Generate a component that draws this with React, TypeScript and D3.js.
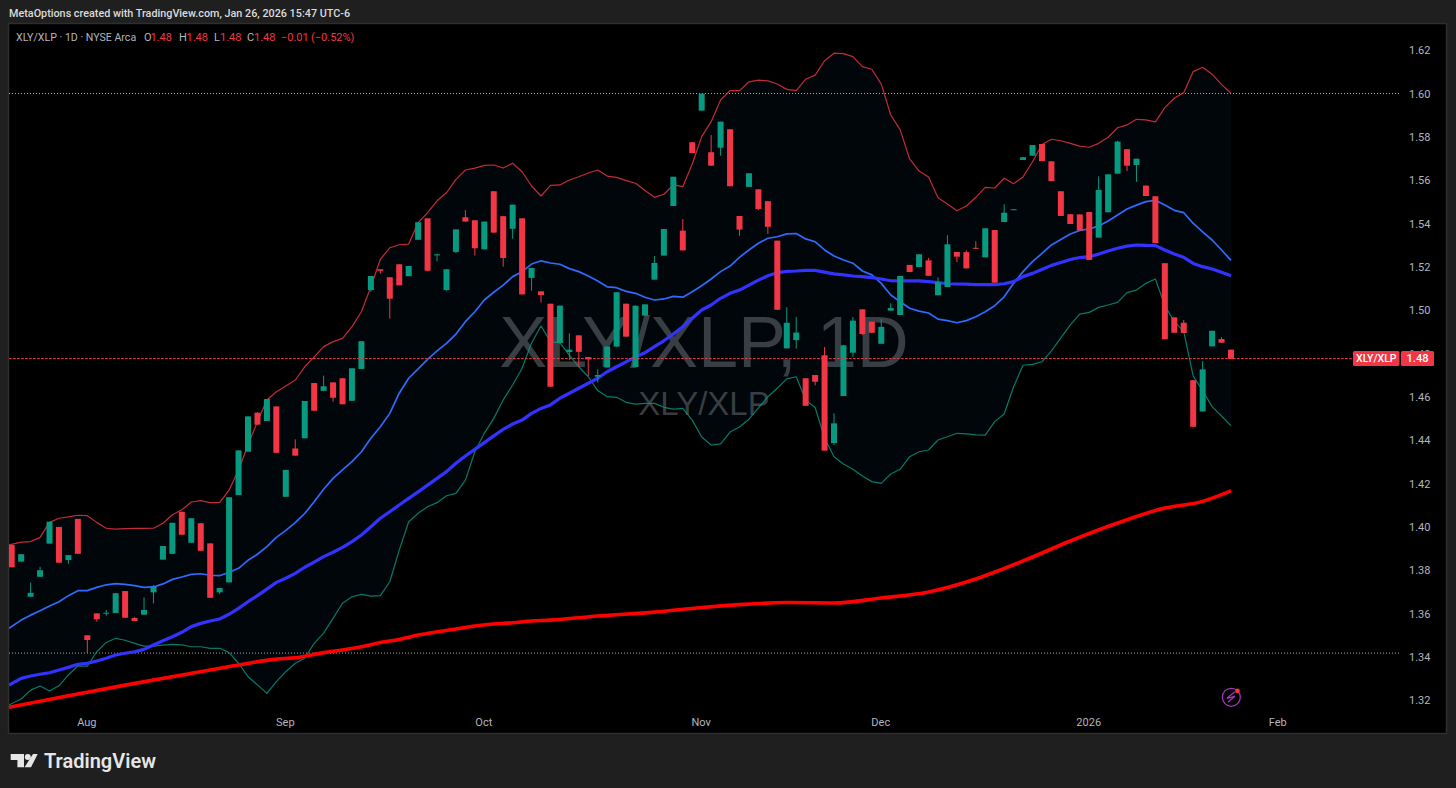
import { useEffect, useRef } from "react";
import * as d3 from "d3";

// daily bars, XLY/XLP
const opens = [
  1.3917, 1.384, 1.3678, 1.377, 1.3923, 1.4, 1.3847, 1.4037, 1.35, 1.3601,
  1.36, 1.3603, 1.3704, 1.358, 1.3595, 1.3698, 1.3849, 1.3876, 1.407, 1.3927,
  1.4017, 1.3924, 1.3698, 1.3744, 1.4147, 1.4347, 1.4527, 1.4489, 1.4556, 1.4139,
  1.4362, 1.4409, 1.4664, 1.4628, 1.4667, 1.4686, 1.4582, 1.4729, 1.5093, 1.5189,
  1.5152, 1.5212, 1.5157, 1.5325, 1.5424, 1.5253, 1.5093, 1.5269, 1.5429, 1.5415,
  1.5281, 1.5549, 1.5434, 1.5376, 1.5424, 1.5149, 1.5087, 1.503, 1.4849, 1.4807,
  1.4884, 1.4784, 1.4693, 1.4736, 1.4832, 1.503, 1.4738, 1.4975, 1.5141, 1.5252,
  1.5481, 1.5367, 1.5775, 1.5921, 1.5729, 1.575, 1.5835, 1.5435, 1.5569, 1.5558,
  1.5503, 1.5321, 1.4824, 1.4862, 1.4686, 1.4701, 1.4792, 1.4387, 1.4604, 1.4804,
  1.5004, 1.4947, 1.4845, 1.4998, 1.4978, 1.5209, 1.5199, 1.523, 1.5069, 1.5107,
  1.5269, 1.5268, 1.5288, 1.5244, 1.537, 1.5407, 1.5462, 1.5693, 1.5713, 1.5767,
  1.5687, 1.5549, 1.5443, 1.5442, 1.5453, 1.5335, 1.5452, 1.563, 1.5743, 1.567,
  1.5575, 1.5526, 1.5217, 1.4967, 1.4942, 1.4677, 1.4533, 1.4833, 1.4867, 1.4818,
];
const highs = [
  1.3917, 1.3874, 1.3743, 1.3816, 1.4024, 1.4, 1.387, 1.4037, 1.35, 1.3601,
  1.3617, 1.3694, 1.3704, 1.3584, 1.3675, 1.3732, 1.3912, 1.4019, 1.407, 1.404,
  1.4017, 1.3924, 1.3718, 1.4137, 1.4353, 1.451, 1.453, 1.459, 1.4556, 1.4263,
  1.4404, 1.4581, 1.4664, 1.4698, 1.4667, 1.4686, 1.4732, 1.4857, 1.5158, 1.5189,
  1.5152, 1.5212, 1.5204, 1.5406, 1.5424, 1.526, 1.5189, 1.5373, 1.5462, 1.5415,
  1.5409, 1.5549, 1.5434, 1.5487, 1.5424, 1.5195, 1.5087, 1.503, 1.5021, 1.4893,
  1.4884, 1.4784, 1.4727, 1.4832, 1.5083, 1.503, 1.5021, 1.5027, 1.525, 1.5375,
  1.5616, 1.5421, 1.5775, 1.5999, 1.5808, 1.587, 1.5835, 1.5435, 1.5632, 1.5558,
  1.5503, 1.5321, 1.5014, 1.4968, 1.4686, 1.4701, 1.483, 1.4524, 1.4838, 1.4969,
  1.5004, 1.4947, 1.4959, 1.5032, 1.5158, 1.5209, 1.5258, 1.5241, 1.5152, 1.5346,
  1.5269, 1.5276, 1.5318, 1.5378, 1.537, 1.5489, 1.5466, 1.5706, 1.5762, 1.5767,
  1.5687, 1.5549, 1.5443, 1.5442, 1.5453, 1.5618, 1.5627, 1.5782, 1.5743, 1.5699,
  1.5575, 1.5526, 1.5217, 1.4967, 1.4955, 1.4677, 1.4766, 1.4905, 1.4876, 1.4818,
];
const lows = [
  1.3814, 1.384, 1.3678, 1.377, 1.3923, 1.3835, 1.383, 1.3876, 1.3418, 1.3563,
  1.359, 1.3603, 1.3581, 1.3566, 1.3595, 1.3647, 1.3849, 1.3876, 1.3964, 1.3927,
  1.389, 1.3673, 1.369, 1.3744, 1.4147, 1.4347, 1.4472, 1.4489, 1.4342, 1.4139,
  1.4329, 1.4409, 1.4536, 1.4628, 1.4578, 1.4566, 1.4582, 1.4729, 1.5085, 1.5168,
  1.4961, 1.5115, 1.5157, 1.5325, 1.5182, 1.5226, 1.509, 1.5264, 1.5409, 1.5252,
  1.5281, 1.5358, 1.5201, 1.533, 1.5073, 1.509, 1.5035, 1.4647, 1.4849, 1.477,
  1.4739, 1.4696, 1.4667, 1.4736, 1.4832, 1.4878, 1.4738, 1.4975, 1.5141, 1.5252,
  1.5481, 1.5276, 1.5725, 1.5921, 1.5667, 1.5713, 1.5572, 1.5344, 1.5569, 1.5462,
  1.5352, 1.5002, 1.4824, 1.4823, 1.4559, 1.4653, 1.4352, 1.4378, 1.4604, 1.4783,
  1.4886, 1.4896, 1.4845, 1.4998, 1.4978, 1.5176, 1.5199, 1.5159, 1.5069, 1.5107,
  1.5222, 1.5193, 1.5284, 1.5244, 1.5127, 1.5407, 1.5462, 1.5693, 1.5713, 1.5688,
  1.5596, 1.5435, 1.5398, 1.5368, 1.5232, 1.5335, 1.5452, 1.563, 1.5642, 1.5592,
  1.5527, 1.531, 1.4866, 1.4896, 1.4895, 1.4462, 1.4533, 1.4833, 1.485, 1.4775,
];
const closes = [
  1.3814, 1.3874, 1.3696, 1.38, 1.4024, 1.3835, 1.387, 1.3876, 1.3478, 1.3574,
  1.3604, 1.3694, 1.3581, 1.3566, 1.3617, 1.3723, 1.3912, 1.4019, 1.3964, 1.404,
  1.389, 1.3673, 1.3718, 1.4137, 1.4353, 1.451, 1.4472, 1.459, 1.4342, 1.4263,
  1.4329, 1.4581, 1.4536, 1.4649, 1.4596, 1.4566, 1.4732, 1.4857, 1.5158, 1.5182,
  1.5053, 1.5115, 1.5204, 1.5406, 1.5182, 1.5258, 1.5189, 1.5373, 1.5409, 1.5286,
  1.5409, 1.5358, 1.5241, 1.5487, 1.5073, 1.5195, 1.507, 1.4647, 1.5021, 1.4818,
  1.4808, 1.4773, 1.4701, 1.4832, 1.5083, 1.4878, 1.5021, 1.5027, 1.5218, 1.5375,
  1.5616, 1.5276, 1.5725, 1.5999, 1.5667, 1.587, 1.5572, 1.5372, 1.5632, 1.5467,
  1.5385, 1.5002, 1.4942, 1.4897, 1.4559, 1.467, 1.4352, 1.4478, 1.4838, 1.4952,
  1.489, 1.4896, 1.4923, 1.501, 1.5158, 1.5176, 1.5258, 1.5159, 1.5129, 1.5304,
  1.5247, 1.5193, 1.5284, 1.5378, 1.5127, 1.545, 1.5466, 1.5706, 1.5762, 1.5688,
  1.5596, 1.5435, 1.5398, 1.5368, 1.5232, 1.5555, 1.5627, 1.5778, 1.5667, 1.5699,
  1.5527, 1.531, 1.4866, 1.4896, 1.4895, 1.4462, 1.4727, 1.4905, 1.485, 1.4775,
];

// bollinger bands
const bbUpper = [
  1.3917, 1.393, 1.3932, 1.3952, 1.4021, 1.404, 1.4046, 1.4054, 1.4052, 1.4021,
  1.3994, 1.399, 1.3992, 1.3994, 1.3993, 1.3994, 1.4017, 1.4056, 1.4079, 1.4115,
  1.4121, 1.4112, 1.4112, 1.417, 1.4263, 1.4378, 1.4486, 1.4586, 1.4624, 1.465,
  1.4678, 1.4739, 1.4785, 1.4832, 1.4855, 1.487, 1.4924, 1.4993, 1.5108, 1.5235,
  1.5288, 1.5302, 1.5305, 1.5404, 1.545, 1.5505, 1.5542, 1.5604, 1.5647, 1.5656,
  1.5668, 1.567, 1.5656, 1.5678, 1.5639, 1.5573, 1.5527, 1.5576, 1.5578, 1.5601,
  1.5616, 1.5633, 1.5647, 1.5619, 1.5613, 1.5598, 1.5586, 1.5552, 1.5521, 1.5535,
  1.5578, 1.557, 1.5675, 1.5801, 1.587, 1.597, 1.6013, 1.6013, 1.6054, 1.6062,
  1.6058, 1.6044, 1.6019, 1.6013, 1.6066, 1.6085, 1.6151, 1.6186, 1.6184, 1.617,
  1.6124, 1.6112, 1.6043, 1.5901, 1.5832, 1.5698, 1.5642, 1.5615, 1.5519, 1.549,
  1.5459, 1.5481, 1.5521, 1.5567, 1.5564, 1.5609, 1.5584, 1.5615, 1.5685, 1.5765,
  1.5789, 1.5782, 1.577, 1.5757, 1.5752, 1.577, 1.5798, 1.5842, 1.5855, 1.5881,
  1.5878, 1.5869, 1.5935, 1.5978, 1.6004, 1.6101, 1.6121, 1.6089, 1.6041, 1.6001,
];
const bbLower = [
  1.3178, 1.3206, 1.3247, 1.3266, 1.3243, 1.3267, 1.3317, 1.3358, 1.3358, 1.3424,
  1.3467, 1.3486, 1.3477, 1.3463, 1.345, 1.345, 1.3455, 1.3458, 1.3456, 1.3447,
  1.3447, 1.344, 1.344, 1.342, 1.3371, 1.3309, 1.3271, 1.3232, 1.3286, 1.3332,
  1.3371, 1.3394, 1.3463, 1.351, 1.3578, 1.3648, 1.3678, 1.3689, 1.3681, 1.3683,
  1.3747, 1.3893, 1.4024, 1.4063, 1.4093, 1.4112, 1.4144, 1.4155, 1.4216, 1.4347,
  1.4432, 1.4501, 1.4586, 1.4655, 1.4732, 1.4849, 1.4927, 1.4855, 1.4849, 1.4793,
  1.4739, 1.4693, 1.4629, 1.4601, 1.4598, 1.4575, 1.4567, 1.457, 1.457, 1.4552,
  1.4544, 1.4547, 1.4493, 1.4415, 1.4378, 1.4383, 1.4438, 1.4461, 1.4497, 1.4549,
  1.4601, 1.464, 1.4683, 1.4693, 1.4586, 1.4551, 1.441, 1.4324, 1.429, 1.4266,
  1.4235, 1.4209, 1.4201, 1.4244, 1.4266, 1.4324, 1.4347, 1.4355, 1.4401, 1.4416,
  1.4432, 1.4429, 1.4425, 1.4424, 1.4486, 1.4521, 1.4647, 1.4746, 1.475, 1.4762,
  1.4812, 1.4872, 1.4932, 1.4982, 1.499, 1.5013, 1.5024, 1.5036, 1.5081, 1.5093,
  1.5124, 1.5144, 1.5021, 1.4947, 1.4901, 1.4696, 1.4629, 1.4555, 1.4512, 1.4466,
];
const bbBasis = [
  1.3532, 1.357, 1.3593, 1.3613, 1.3635, 1.3655, 1.3683, 1.3706, 1.3706, 1.3721,
  1.3733, 1.3738, 1.3735, 1.3729, 1.3721, 1.3723, 1.3737, 1.3758, 1.3769, 1.3781,
  1.3784, 1.3777, 1.3775, 1.3791, 1.3809, 1.3846, 1.3874, 1.3909, 1.3952, 1.3984,
  1.402, 1.4062, 1.4116, 1.4174, 1.4224, 1.4263, 1.4301, 1.4347, 1.4409, 1.4462,
  1.4524, 1.4617, 1.4686, 1.4729, 1.4773, 1.4812, 1.4847, 1.489, 1.4947, 1.4993,
  1.5047, 1.5083, 1.5116, 1.5155, 1.5178, 1.5213, 1.5228, 1.5218, 1.5212, 1.5192,
  1.5178, 1.5158, 1.5135, 1.5108, 1.5104, 1.5087, 1.5078, 1.506, 1.5047, 1.5052,
  1.5064, 1.506, 1.5085, 1.5113, 1.5144, 1.5178, 1.5204, 1.5244, 1.5278, 1.5309,
  1.5332, 1.5339, 1.5352, 1.5354, 1.5329, 1.5316, 1.5278, 1.525, 1.5232, 1.5217,
  1.5181, 1.5163, 1.5124, 1.507, 1.5039, 1.5009, 1.4996, 1.4987, 1.4959, 1.4952,
  1.4942, 1.4952, 1.497, 1.4993, 1.5021, 1.5062, 1.5124, 1.5178, 1.5224, 1.5262,
  1.5301, 1.5326, 1.5352, 1.5368, 1.5375, 1.5389, 1.5412, 1.5439, 1.5467, 1.5485,
  1.5501, 1.5507, 1.5485, 1.5461, 1.545, 1.5401, 1.5362, 1.5324, 1.5278, 1.523,
];

const ma50 = [
  1.327, 1.3301, 1.3312, 1.332, 1.3327, 1.334, 1.3352, 1.3366, 1.3371, 1.3381,
  1.3394, 1.3409, 1.3417, 1.3424, 1.3435, 1.3455, 1.3475, 1.3493, 1.3514, 1.354,
  1.3555, 1.3566, 1.3575, 1.3597, 1.3624, 1.3655, 1.3683, 1.3713, 1.3744, 1.3763,
  1.3786, 1.3814, 1.3838, 1.3863, 1.3883, 1.3906, 1.3932, 1.3963, 1.4001, 1.404,
  1.407, 1.4101, 1.4132, 1.4162, 1.4193, 1.4224, 1.4255, 1.4294, 1.4327, 1.4358,
  1.4389, 1.442, 1.445, 1.4475, 1.4493, 1.4524, 1.4547, 1.4563, 1.4594, 1.4617,
  1.464, 1.4663, 1.4686, 1.4716, 1.4739, 1.4762, 1.4785, 1.4804, 1.4832, 1.4859,
  1.489, 1.4924, 1.4963, 1.5001, 1.5024, 1.5055, 1.5078, 1.5093, 1.5116, 1.5139,
  1.5159, 1.5173, 1.5179, 1.5181, 1.5184, 1.5184, 1.5176, 1.5168, 1.5163, 1.5158,
  1.5155, 1.515, 1.5144, 1.5136, 1.5135, 1.5135, 1.5135, 1.5132, 1.5127, 1.5122,
  1.5121, 1.512, 1.5118, 1.5118, 1.5118, 1.5122, 1.5132, 1.5155, 1.517, 1.5188,
  1.5207, 1.522, 1.5234, 1.5243, 1.5247, 1.5259, 1.5273, 1.5286, 1.5296, 1.5301,
  1.5299, 1.5298, 1.5278, 1.5259, 1.5244, 1.5216, 1.5201, 1.519, 1.5175, 1.5159,
];

// 200 day average is smooth, a reading every few bars is enough
const ma200Bars = [0, 6, 12, 18, 24, 28, 30, 33, 35, 37, 39, 41, 43, 45, 47, 49, 51, 53, 55, 57, 62, 68, 73, 78, 82, 87, 92, 97, 102, 107, 112, 117, 122, 126, 129];
const ma200Values = [
  1.3168, 1.3221, 1.327, 1.3317, 1.3363, 1.339, 1.3396, 1.342, 1.3432, 1.3447,
  1.3467, 1.3481, 1.3501, 1.3516, 1.3529, 1.3543, 1.3552, 1.3558, 1.3566, 1.357,
  1.3589, 1.3607, 1.3628, 1.3644, 1.3651, 1.3649, 1.3672, 1.37, 1.376, 1.3843,
  1.3935, 1.4018, 1.4087, 1.4118, 1.4166,
];

const priceTicks = [1.32, 1.34, 1.36, 1.38, 1.4, 1.42, 1.44, 1.46, 1.48, 1.5, 1.52, 1.54, 1.56, 1.58, 1.6, 1.62];
const monthBars = [8, 29, 50, 73, 92, 114, 134];
const monthLabels = ["Aug", "Sep", "Oct", "Nov", "Dec", "2026", "Feb"];
const levelLines = [1.6, 1.3418];
const lastPrice = 1.4777;

const uiFont = "Roboto, 'Liberation Sans', sans-serif";
const upColor = "#089981";
const downColor = "#f23645";

export default function App() {
  const svgRef = useRef<SVGSVGElement>(null);

  useEffect(() => {
    if (!svgRef.current) return;
    const svg = d3.select(svgRef.current);
    svg.selectAll("*").remove();

    const W = 1456;
    const H = 788;
    const pane = { left: 9, right: 1400, top: 24, bottom: 733 };

    const x = d3.scaleLinear().domain([0, 129]).range([11.7, 1231]);
    const y = d3.scaleLinear().domain([1.6, 1.32]).range([93.5, 700.3]);
    // the first bar is cut by the pane edge, its lines start right on that edge
    const lineX = (i: number) => (i === 0 ? pane.left : x(i));

    svg.append("rect").attr("width", W).attr("height", H).attr("fill", "#1f1f1f");
    svg
      .append("rect")
      .attr("x", 8.5)
      .attr("y", 23.5)
      .attr("width", 1438)
      .attr("height", 710)
      .attr("fill", "#000")
      .attr("stroke", "#2e2e2e")
      .attr("stroke-width", 1.5);

    svg
      .append("clipPath")
      .attr("id", "pane")
      .append("rect")
      .attr("x", pane.left)
      .attr("y", pane.top)
      .attr("width", pane.right - pane.left)
      .attr("height", pane.bottom - pane.top);

    // Watermark
    const watermark = svg.append("g").attr("fill", "#393b3d").attr("text-anchor", "middle").style("font-family", "'Liberation Sans', sans-serif");
    watermark.append("text").attr("x", 704).attr("y", 367).attr("font-size", 72).text("XLY/XLP, 1D");
    watermark.append("text").attr("x", 704).attr("y", 415).attr("font-size", 33).text("XLY/XLP");

    const g = svg.append("g").attr("clip-path", "url(#pane)");

    // Band fill
    const bars = d3.range(opens.length);
    const band = d3
      .area<number>()
      .x((i) => lineX(i))
      .y0((i) => y(bbLower[i]))
      .y1((i) => y(bbUpper[i]));
    g.append("path").attr("d", band(bars)).attr("fill", "#2196f3").attr("fill-opacity", 0.045);

    // Level lines
    g.selectAll("line.level")
      .data(levelLines)
      .enter()
      .append("line")
      .attr("class", "level")
      .attr("x1", pane.left)
      .attr("x2", pane.right)
      .attr("y1", (d) => y(d))
      .attr("y2", (d) => y(d))
      .attr("stroke", "#a8a8a8")
      .attr("stroke-dasharray", "1 2");

    const drawLine = (values: number[], color: string, width: number, opacity = 1) => {
      const line = d3
        .line<number>()
        .x((i) => lineX(i))
        .y((i) => y(values[i]));
      g.append("path")
        .attr("d", line(bars))
        .attr("fill", "none")
        .attr("stroke", color)
        .attr("stroke-width", width)
        .attr("stroke-opacity", opacity)
        .attr("stroke-linejoin", "round");
    };

    drawLine(bbUpper, "#f23645", 1.2, 0.8);
    drawLine(bbLower, "#089981", 1.2, 0.8);
    drawLine(bbBasis, "#2f6bff", 1.7);
    drawLine(ma50, "#3333ff", 3.2);

    const ma200Line = d3
      .line<number>()
      .x((d) => lineX(d))
      .y((_, i) => y(ma200Values[i]))
      .curve(d3.curveMonotoneX);
    g.append("path")
      .attr("d", ma200Line(ma200Bars))
      .attr("fill", "none")
      .attr("stroke", "#ff0000")
      .attr("stroke-width", 3.6);

    // Candles
    const candleColor = (i: number) => (closes[i] >= opens[i] ? upColor : downColor);
    g.selectAll("line.wick")
      .data(bars)
      .enter()
      .append("line")
      .attr("class", "wick")
      .attr("x1", (i) => x(i))
      .attr("x2", (i) => x(i))
      .attr("y1", (i) => y(highs[i]))
      .attr("y2", (i) => y(lows[i]))
      .attr("stroke", candleColor)
      .attr("stroke-width", 1);
    g.selectAll("rect.body")
      .data(bars)
      .enter()
      .append("rect")
      .attr("class", "body")
      .attr("x", (i) => x(i) - 3)
      .attr("width", 6)
      .attr("y", (i) => y(Math.max(opens[i], closes[i])))
      .attr("height", (i) => Math.max(1, Math.abs(y(opens[i]) - y(closes[i]))))
      .attr("fill", candleColor);

    // Last price line, mostly red with a few blue dots showing through
    const priceLine = svg.append("g");
    priceLine
      .append("line")
      .attr("x1", pane.left)
      .attr("x2", 1353)
      .attr("y1", y(lastPrice))
      .attr("y2", y(lastPrice))
      .attr("stroke", "#2962ff")
      .attr("stroke-opacity", 0.7)
      .attr("stroke-dasharray", "1 3")
      .attr("stroke-dashoffset", 2);
    priceLine
      .append("line")
      .attr("x1", pane.left)
      .attr("x2", 1353)
      .attr("y1", y(lastPrice))
      .attr("y2", y(lastPrice))
      .attr("stroke", downColor)
      .attr("stroke-dasharray", "2 2");

    // Price axis
    const yAxis = svg
      .append("g")
      .attr("transform", "translate(1409,0)")
      .call(d3.axisRight(y).tickValues(priceTicks).tickFormat(d3.format(".2f")).tickSize(0).tickPadding(0));
    yAxis.select(".domain").remove();
    yAxis.selectAll("text").attr("fill", "#b2b5be").style("font-size", "11px").style("font-family", uiFont);

    // Time axis
    const xAxis = svg
      .append("g")
      .attr("transform", "translate(-1,715)")
      .call(
        d3
          .axisBottom(x)
          .tickValues(monthBars)
          .tickFormat((d) => monthLabels[monthBars.indexOf(d as number)])
          .tickSize(0)
          .tickPadding(3)
      );
    xAxis.select(".domain").remove();
    xAxis.selectAll("text").attr("fill", "#b2b5be").style("font-size", "11px").style("font-family", uiFont);

    // Last price labels
    const boxY = y(lastPrice) - 7.5;
    svg.append("rect").attr("x", 1353).attr("y", boxY).attr("width", 46.5).attr("height", 15).attr("rx", 1.5).attr("fill", downColor);
    svg.append("rect").attr("x", 1401).attr("y", boxY).attr("width", 33).attr("height", 15).attr("rx", 1.5).attr("fill", downColor);
    svg
      .append("text")
      .attr("x", 1376.3)
      .attr("y", boxY + 11.3)
      .attr("text-anchor", "middle")
      .attr("fill", "#fff")
      .style("font-size", "10.5px")
      .style("font-weight", 500)
      .style("font-family", uiFont)
      .text("XLY/XLP");
    svg
      .append("text")
      .attr("x", 1417.5)
      .attr("y", boxY + 11.3)
      .attr("text-anchor", "middle")
      .attr("fill", "#fff")
      .style("font-size", "11px")
      .style("font-weight", 500)
      .style("font-family", uiFont)
      .text("1.48");

    // Header
    svg
      .append("text")
      .attr("x", 9)
      .attr("y", 17)
      .attr("fill", "#dcdcdc")
      .style("font-size", "10.8px")
      .style("font-weight", 500)
      .style("font-family", uiFont)
      .text("MetaOptions created with TradingView.com, Jan 26, 2026 15:47 UTC-6");

    const legendItems: [string, number, string][] = [
      ["XLY/XLP · 1D · NYSE Arca", 16, "#b2b5be"],
      ["O", 144, "#b2b5be"],
      ["1.48", 150.5, downColor],
      ["H", 179, "#b2b5be"],
      ["1.48", 186.5, downColor],
      ["L", 214, "#b2b5be"],
      ["1.48", 220, downColor],
      ["C", 247, "#b2b5be"],
      ["1.48", 254, downColor],
      ["−0.01", 281, downColor],
      ["(−0.52%)", 311, downColor],
    ];
    svg
      .append("g")
      .selectAll("text")
      .data(legendItems)
      .enter()
      .append("text")
      .attr("x", (d) => d[1])
      .attr("y", 41)
      .attr("fill", (d) => d[2])
      .style("font-size", (d) => (d[1] === 16 ? "10.6px" : "11px"))
      .style("font-family", uiFont)
      .text((d) => d[0]);

    // Replay badge
    const badge = svg.append("g").attr("transform", "translate(1231.3,697.3)");
    badge.append("circle").attr("r", 9).attr("fill", "none").attr("stroke", "#a13bb8").attr("stroke-width", 1.2);
    badge
      .append("path")
      .attr("d", "M3.5,-5.5 L-4.5,1 L3.5,-1 L-3.5,5")
      .attr("fill", "none")
      .attr("stroke", "#a13bb8")
      .attr("stroke-width", 1.2);
    badge.append("circle").attr("cx", 6.2).attr("cy", -6.3).attr("r", 2.4).attr("fill", downColor);

    // TradingView logo
    const logo = svg.append("g").attr("fill", "#e6e6e6");
    logo.append("path").attr("d", "M10.7,754 H24 V767.3 H17.4 V760 H10.7 Z");
    logo.append("circle").attr("cx", 27.8).attr("cy", 757).attr("r", 3);
    logo.append("path").attr("d", "M33,754 H37.7 L31,767.3 H24.5 Z");
    svg
      .append("text")
      .attr("x", 44)
      .attr("y", 767.8)
      .attr("fill", "#e6e6e6")
      .style("font-size", "20px")
      .style("font-weight", 600)
      .style("font-family", "Roboto, sans-serif")
      .text("TradingView");
  }, []);

  return (
    <div>
      <svg
        ref={svgRef}
        width={1456}
        height={788}
        style={{ position: "absolute", left: 0, top: 0, display: "block" }}
      ></svg>
    </div>
  );
}
